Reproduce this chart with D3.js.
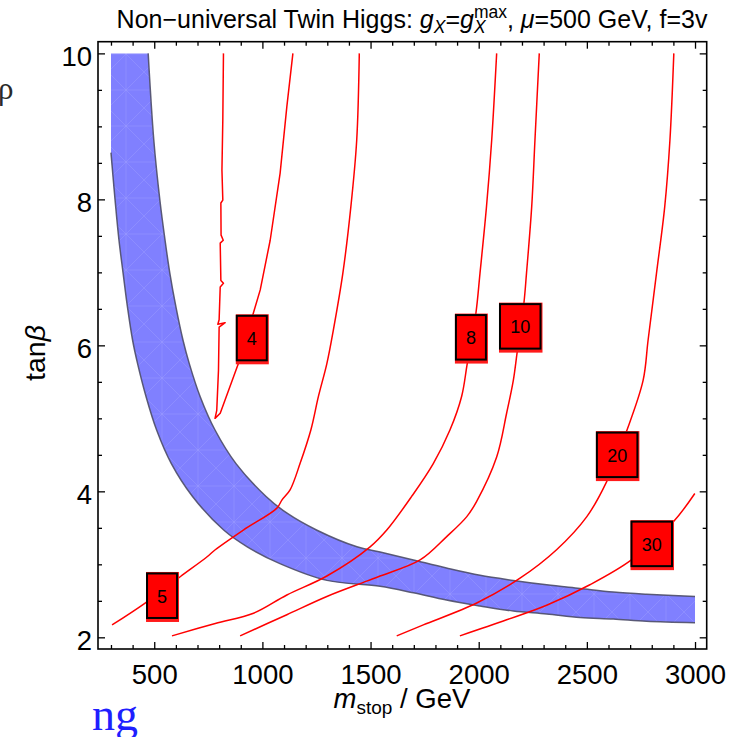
<!DOCTYPE html>
<html><head><meta charset="utf-8">
<script src="https://cdn.jsdelivr.net/npm/d3@7"></script>
<style>
html,body{margin:0;padding:0;background:#fff;}
svg{display:block;}
</style></head><body>
<svg id="chart" width="744" height="737"></svg>
<script>
// ---------------- data ----------------
const xTickValues = [500, 1000, 1500, 2000, 2500, 3000];
const yTickValues = [2, 4, 6, 8, 10];
const xMinorTicks = d3.range(300, 3001, 100);
const yMinorTicks = d3.range(2, 10.01, 0.5);

// tuning band: upper and lower boundaries, [m_stop, tanβ]
const bandUpper = [[472,10],[498,8.81],[526,7.99],[550,7.44],[572,6.99],[600,6.53],[633,6.07],[662,5.75],[712,5.30],[781,4.84],[878,4.38],[1017,3.93],[1114,3.70],[1250,3.47],[1437,3.24],[1544,3.17],[1698,3.06],[1851,2.95],[2006,2.85],[2160,2.78],[2314,2.72],[2468,2.67],[2622,2.62],[2776,2.59],[3000,2.56]];
const bandLower = [[300,8.64],[319,7.99],[337,7.44],[356,6.99],[376,6.53],[400,6.07],[423,5.75],[462,5.30],[511,4.84],[579,4.38],[677,3.93],[821,3.47],[930,3.24],[1081,3.01],[1299,2.78],[1544,2.70],[1698,2.61],[1851,2.51],[2006,2.43],[2160,2.36],[2314,2.32],[2468,2.27],[2622,2.25],[2776,2.22],[3000,2.20]];

// fine-tuning contours, [m_stop, tanβ]
const contour4 = [[820,10.0],[817,9.09],[813,8.40],[817,7.99],[808,7.95],[809,7.51],[819,7.44],[805,7.40],[808,6.89],[820,6.85],[805,6.80],[800,6.35],[794,6.29],[828,6.31],[800,6.25],[797,5.66],[791,5.25],[789,5.11],[781,5.00],[805,5.07],[889,5.75],[958,6.44],[990,6.76],[1036,7.44],[1082,8.36],[1113,9.27],[1141,10.0]];
const contour5 = [[1448,10],[1436,8.81],[1409,7.90],[1372,6.99],[1328,6.21],[1298,5.75],[1259,5.30],[1224,4.84],[1174,4.38],[1128,4.02],[1090,3.88],[1067,3.77],[912,3.47],[782,3.20],[743,3.10],[620,2.83],[458,2.47],[305,2.17]];
const contour8 = [[2083,10],[2060,8.81],[2036,7.90],[2006,6.99],[1987,6.44],[1947,5.75],[1921,5.30],[1867,4.84],[1790,4.38],[1690,3.93],[1575,3.47],[1498,3.24],[1298,2.84],[1113,2.58],[959,2.33],[782,2.19],[582,2.02]];
const contour10 = [[2280,10],[2260,8.81],[2245,7.90],[2221,6.99],[2209,6.58],[2178,5.91],[2160,5.52],[2129,5.07],[2083,4.47],[1990,3.86],[1944,3.65],[1852,3.38],[1729,3.06],[1544,2.84],[1482,2.77],[1298,2.56],[1113,2.31],[897,2.02]];
const contour20 = [[2902,10],[2884,8.81],[2860,7.90],[2822,6.99],[2783,6.07],[2760,5.52],[2683,4.82],[2591,4.13],[2499,3.65],[2360,3.20],[2191,2.81],[1991,2.47],[1744,2.17],[1621,2.02]];
const contour30 = [[2999,3.97],[2899,3.58],[2706,3.06],[2514,2.72],[2314,2.44],[2129,2.24],[1913,2.02]];

// contour labels
const labelValues = ["4", "5", "8", "10", "20", "30"];
const labelM      = [951, 536, 1964, 2192, 2640, 2800];
const labelTan    = [6.10, 2.57, 6.11, 6.26, 4.50, 3.28];

// ---------------- layout ----------------
const FONT = '"Liberation Sans", Arial, Helvetica, sans-serif';
const SERIF = '"Liberation Serif", "DejaVu Serif", serif';
const plot = {left: 98, right: 706.7, top: 41.7, bottom: 649};
const svg = d3.select("#chart");

const x = d3.scaleLinear().domain([240, 3054]).range([plot.left, plot.right]);
const y = d3.scaleLinear().domain([1.84, 10.16]).range([plot.bottom, plot.top]);

const defs = svg.append("defs");
defs.append("clipPath").attr("id", "plotClip").append("rect")
  .attr("x", plot.left).attr("y", plot.top)
  .attr("width", plot.right - plot.left).attr("height", plot.bottom - plot.top);

// faint mesh texture inside the band
const pat = defs.append("pattern").attr("id", "mesh")
  .attr("patternUnits", "userSpaceOnUse").attr("width", 36).attr("height", 36);
pat.append("rect").attr("width", 36).attr("height", 36).attr("fill", "#8080ff");
[[0,0,36,36],[36,0,0,36],[0,18,36,18],[18,0,18,36]].forEach(l => {
  pat.append("line").attr("x1", l[0]).attr("y1", l[1]).attr("x2", l[2]).attr("y2", l[3])
    .attr("stroke", "#a4a4ff").attr("stroke-width", 0.7).attr("stroke-opacity", 0.55);
});

const plotG = svg.append("g").attr("clip-path", "url(#plotClip)");

const smooth = d3.line().x(d => x(d[0])).y(d => y(d[1])).curve(d3.curveCatmullRom.alpha(0.5));
const straight = d3.line().x(d => x(d[0])).y(d => y(d[1]));

// band fill: upper edge, lower edge back, then along m=300 up to tanβ=10
const upperD = smooth(bandUpper);
const lowerRevD = smooth(bandLower.slice().reverse());
const bandD = upperD + "L" + lowerRevD.slice(1) + "L" + x(300) + "," + y(10) + "Z";
plotG.append("path").attr("d", bandD).attr("fill", "url(#mesh)");
[bandUpper, bandLower].forEach(edge => {
  plotG.append("path").attr("d", smooth(edge)).attr("fill", "none")
    .attr("stroke", "#4c4c68").attr("stroke-width", 1.5).attr("stroke-opacity", 0.9);
});

// contours
const contours = [
  {pts: contour4, gen: straight},
  {pts: contour5, gen: smooth},
  {pts: contour8, gen: smooth},
  {pts: contour10, gen: smooth},
  {pts: contour20, gen: smooth},
  {pts: contour30, gen: smooth}
];
contours.forEach(c => {
  plotG.append("path").attr("d", c.gen(c.pts)).attr("fill", "none")
    .attr("stroke", "#ff0000").attr("stroke-width", 1.5).attr("stroke-linejoin", "round");
});

// contour labels
labelValues.forEach((v, i) => {
  const cx = x(labelM[i]), cy = y(labelTan[i]);
  const w = v.length === 1 ? 30 : 40.5, h = 44.5;
  const g = svg.append("g");
  g.append("rect").attr("x", cx - w / 2 - 1).attr("y", cy - h / 2 - 1.5)
    .attr("width", w + 3).attr("height", h + 5.5).attr("fill", "#ff1a1a");
  g.append("rect").attr("x", cx - w / 2).attr("y", cy - h / 2)
    .attr("width", w).attr("height", h).attr("fill", "#ff0000")
    .attr("stroke", "#000").attr("stroke-width", 2);
  g.append("text").attr("x", cx).attr("y", cy + 7)
    .attr("text-anchor", "middle").attr("font-family", FONT).attr("font-size", 18)
    .attr("fill", "#000").text(v);
});

// ---------------- axes ----------------
function addAxis(axis, tx, ty, labelSize) {
  const g = svg.append("g").attr("transform", `translate(${tx},${ty})`).call(axis);
  g.select(".domain").remove();
  g.selectAll(".tick line").attr("stroke", "#000").attr("stroke-width", 1.3);
  g.attr("font-family", FONT).attr("font-size", labelSize || 10);
  g.selectAll(".tick text").attr("fill", "#000");
  return g;
}
addAxis(d3.axisBottom(x).tickValues(xTickValues).tickSize(-7).tickPadding(15).tickFormat(d3.format("d")), 0, plot.bottom, 27.5);
addAxis(d3.axisBottom(x).tickValues(xMinorTicks.filter(v => v % 500)).tickSize(-4).tickFormat(""), 0, plot.bottom);
addAxis(d3.axisTop(x).tickValues(xTickValues).tickSize(-7).tickFormat(""), 0, plot.top);
addAxis(d3.axisTop(x).tickValues(xMinorTicks.filter(v => v % 500)).tickSize(-4).tickFormat(""), 0, plot.top);
const yl = addAxis(d3.axisLeft(y).tickValues(yTickValues).tickSize(-7).tickPadding(6).tickFormat(d3.format("d")), plot.left, 0, 27.5);
yl.selectAll(".tick text").attr("dy", "0.45em");
addAxis(d3.axisLeft(y).tickValues(yMinorTicks.filter(v => v % 2)).tickSize(-4).tickFormat(""), plot.left, 0);
addAxis(d3.axisRight(y).tickValues(yTickValues).tickSize(-7).tickFormat(""), plot.right, 0);
addAxis(d3.axisRight(y).tickValues(yMinorTicks.filter(v => v % 2)).tickSize(-4).tickFormat(""), plot.right, 0);

svg.append("rect").attr("x", plot.left).attr("y", plot.top)
  .attr("width", plot.right - plot.left).attr("height", plot.bottom - plot.top)
  .attr("fill", "none").attr("stroke", "#000").attr("stroke-width", 1.6);

// ---------------- rich text (sub/superscripts) ----------------
function richText(parent, cx, baseline, segs) {
  const g = parent.append("g");
  let pos = 0, lastStart = 0, lastW = 0;
  segs.forEach(s => {
    const t = g.append("text").attr("font-family", FONT).attr("font-size", s.size)
      .attr("font-style", s.italic ? "italic" : "normal").attr("fill", "#000")
      .attr("y", baseline + (s.shift || 0)).attr("xml:space", "preserve").text(s.t);
    const w = t.node().getComputedTextLength();
    if (s.stack) {
      t.attr("x", lastStart);
      pos = lastStart + Math.max(lastW, w);
    } else {
      t.attr("x", pos);
      lastStart = pos; lastW = w;
      pos += w;
    }
  });
  g.selectAll("text").each(function () {
    const e = d3.select(this);
    e.attr("x", +e.attr("x") + cx - pos / 2);
  });
  return g;
}

richText(svg, 412, 28, [
  {t: "Non\u2212universal Twin Higgs: ", size: 25},
  {t: "g", size: 25, italic: true},
  {t: "X", size: 17.5, italic: true, shift: 5},
  {t: "=", size: 25},
  {t: "g", size: 25, italic: true},
  {t: "X", size: 17.5, italic: true, shift: 5},
  {t: "max", size: 17.5, shift: -10, stack: true},
  {t: ", ", size: 25},
  {t: "\u03bc", size: 25, italic: true},
  {t: "=500 GeV, f=3v", size: 25}
]);

richText(svg, 402, 708, [
  {t: "m", size: 27.5, italic: true},
  {t: "stop", size: 19, shift: 6},
  {t: " / GeV", size: 27.5}
]);

const yTitle = svg.append("g").attr("transform", "translate(45,353) rotate(-90)");
richText(yTitle, 0, 0, [
  {t: "tan", size: 28.5},
  {t: "\u03b2", size: 28.5, italic: true}
]);

// surrounding page fragments
svg.append("text").attr("x", -2).attr("y", 99)
  .attr("font-family", SERIF).attr("font-size", 31)
  .attr("fill", "#2a2a2a").text("\u03c1");
svg.append("text").attr("x", 92).attr("y", 730)
  .attr("font-family", SERIF).attr("font-size", 46)
  .attr("fill", "#1f1fff").text("ng");
</script>
</body></html>
